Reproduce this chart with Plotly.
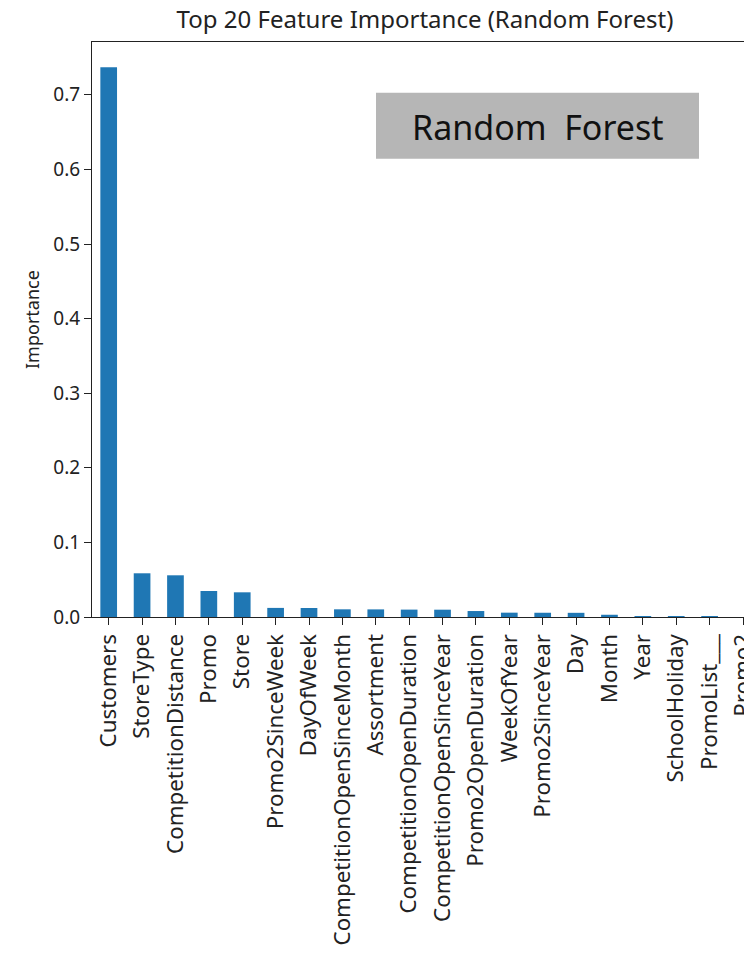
import plotly.graph_objects as go

# Feature importances from the random forest, sorted descending
features = [
    "Customers", "StoreType", "CompetitionDistance", "Promo", "Store",
    "Promo2SinceWeek", "DayOfWeek", "CompetitionOpenSinceMonth", "Assortment",
    "CompetitionOpenDuration", "CompetitionOpenSinceYear", "Promo2OpenDuration",
    "WeekOfYear", "Promo2SinceYear", "Day", "Month", "Year", "SchoolHoliday",
    "PromoList___", "Promo2",
]
importance = [
    0.737, 0.0586, 0.0559, 0.0349, 0.0331,
    0.0122, 0.0121, 0.0103, 0.0102,
    0.0099, 0.0098, 0.0080,
    0.0058, 0.0057, 0.0056, 0.0030, 0.0003, 0.0002,
    0.0001, 0.0000,
]
y_ticks = [0.0, 0.1, 0.2, 0.3, 0.4, 0.5, 0.6, 0.7]

BAR_COLOR = "#1f77b4"
FONT = "Noto Sans, Open Sans, DejaVu Sans, sans-serif"
INK = "#222222"

fig = go.Figure(
    go.Bar(
        x=list(range(len(features))),
        y=importance,
        width=0.5,
        marker=dict(color=BAR_COLOR, line=dict(width=0)),
    )
)

W, H = 744, 980
L, R, T, B = 92, 0, 42, 363
PW, PH = W - L - R, H - T - B

fig.update_layout(
    width=W,
    height=H,
    margin=dict(l=L, r=R, t=T, b=B, pad=0, autoexpand=False),
    paper_bgcolor="white",
    plot_bgcolor="white",
    showlegend=False,
    title=dict(
        text="Top 20 Feature Importance (Random Forest)",
        x=(425 - L) / PW,
        xref="paper",
        xanchor="center",
        y=1 - 20 / H,
        yref="container",
        yanchor="middle",
        font=dict(family=FONT, size=24, color=INK),
    ),
    font=dict(family=FONT, color=INK),
)

fig.update_xaxes(
    range=[-0.5, 19.03],
    tickmode="array",
    tickvals=list(range(len(features))),
    ticktext=features,
    tickangle=-90,
    tickfont=dict(family=FONT, size=22.3, color=INK),
    ticklabeloverflow="allow",
    automargin=False,
    ticks="outside",
    ticklen=7,
    tickwidth=1.2,
    tickcolor=INK,
    showline=True,
    linecolor=INK,
    linewidth=1.2,
    mirror=True,
    showgrid=False,
    zeroline=False,
    fixedrange=True,
)

fig.update_yaxes(
    range=[0, 0.7708],
    tickmode="array",
    tickvals=y_ticks,
    ticktext=[f"{v:.1f}" for v in y_ticks],
    tickfont=dict(family=FONT, size=19, color=INK),
    automargin=False,
    ticks="outside",
    ticklen=7,
    tickwidth=1.2,
    tickcolor=INK,
    showline=True,
    linecolor=INK,
    linewidth=1.2,
    mirror=False,
    showgrid=False,
    zeroline=False,
    fixedrange=True,
)

# Y-axis label
fig.add_annotation(
    text="Importance",
    xref="paper", yref="paper",
    x=(32 - L) / PW, y=(617 - 320) / PH,
    xanchor="center", yanchor="middle",
    textangle=-90,
    showarrow=False,
    font=dict(family=FONT, size=18, color=INK),
)

# Model name badge
fig.add_shape(
    type="rect",
    xref="paper", yref="paper",
    x0=(376 - L) / PW, x1=(699 - L) / PW,
    y0=(617 - 158.7) / PH, y1=(617 - 92.7) / PH,
    fillcolor="#b6b6b6",
    line=dict(width=0),
    layer="above",
)
fig.add_annotation(
    text="Random  Forest",
    xref="paper", yref="paper",
    x=(537.5 - L) / PW, y=(617 - 127) / PH,
    xanchor="center", yanchor="middle",
    showarrow=False,
    font=dict(family=FONT, size=34, color="#111111"),
)

fig.write_html("out.html", config={"displayModeBar": False})
